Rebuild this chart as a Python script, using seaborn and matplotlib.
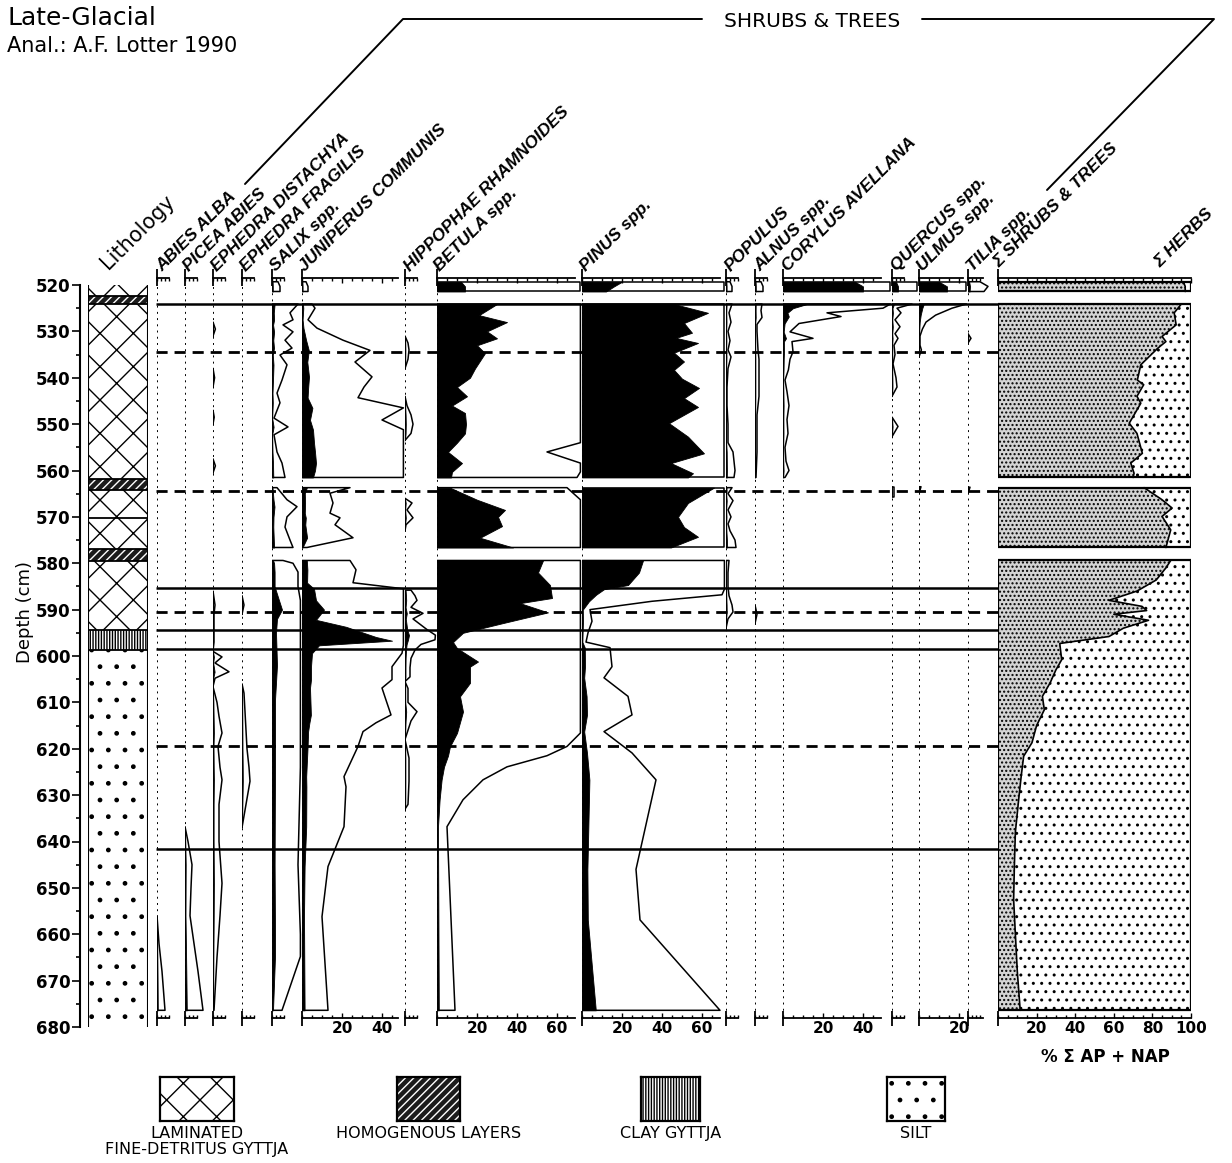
import numpy as np
import matplotlib
matplotlib.use("Agg")
import matplotlib.pyplot as plt
import seaborn as sns
from matplotlib.lines import Line2D
from matplotlib.patches import Rectangle
from matplotlib.ticker import FixedLocator

sns.set_theme(style="white")
plt.rcParams["font.family"] = ["DejaVu Sans"]
plt.rcParams["hatch.linewidth"] = 1.0
plt.rcParams["text.color"] = "black"
plt.rcParams["xtick.labelcolor"] = "black"
plt.rcParams["ytick.labelcolor"] = "black"

N = np.nan

# ---------------- data: depth (cm) / percent of sum AP + NAP ----------------
# NaN separates the core sections (gaps between drives)
betula_depth = [519.3, 520.3, 521.4, N,
                524.1, 526.5, 528, 530, 531.5, 533, 534.7, 538, 540, 542, 544, 546, 547.6, 550, 552, 554,
                556, 558.4, 560.3, 561.5, N,
                563.7, 566.3, 568.5, 570, 572, 574.5, 576.6, N,
                579.4, 582, 584.7, 587.5, 588.6, 590.6, 592.9, 595, 597, 598.3, 601.2, 602.3, 605.8, 608.7,
                612, 616.6, 619.5, 621.5, 623.9, 626.7, 631, 636.8, 676.4]
betula = [12, 14, 14, N,
          30, 21, 35, 25, 30, 20, 24, 19, 16.5, 10, 15, 7.5, 14, 14.5, 14, 10, 5.5, 12.5, 7.5, 7, N,
          6.5, 20, 34, 30.5, 32.5, 21.5, 38, N,
          53, 50.5, 56.5, 57.5, 41.5, 55.5, 33, 13, 8, 10, 20.5, 16.5, 16.5, 11.5, 13, 10, 6.5, 5.5, 3.5,
          2.3, 1.3, 0.5, 0.9]

pinus_depth = [519.3, 520.3, 521.4, N,
               524.1, 526, 528.2, 530.3, 531.4, 532.5, 534.6, 536.5, 538.3, 540.2, 542.2, 544.4, 546.3, 549.8,
               552.7, 556.3, 558.4, 560.6, 561.5, N,
               563.7, 567, 570, 572.2, 574.3, 576.6, N,
               579.4, 582, 584.7, 585.6, 586.8, 588.2, 590, 592.5, 595, 597, 598.2, 602.3, 604.7, 608.7,
               612.7, 616.3, 620.9, 626.7, 646, 656.9, 676.4]
pinus = [20, 16, 12, N,
         46, 63, 51, 55, 47, 58, 46, 51, 46, 50, 58.5, 51, 58, 43.5, 53, 61, 44.5, 55.5, 53, N,
         66, 53, 48, 51, 58, 44.5, N,
         30.5, 28.5, 23, 11, 7, 3.5, 0.4, 0.5, 0.3, 0.2, 1.4, 1.5, 1.1, 2.3, 2.5, 1.1, 2.5, 3.7, 2.7, 2.9, 6.9]

juniperus_depth = [519.3, 520.3, 521.4, N,
                   524.1, 525, 527.5, 529.3, 531.9, 534.1, 536.6, 539.8, 542, 544.3, 546.5, 549.1, 551.2, 554,
                   556, 558.4, 560, 561.5, N,
                   563.7, 564.9, 567, 569.2, 570.2, 571.7, 574.5, 576.6, N,
                   579.4, 581.4, 584.2, 585.5, 588, 590, 592.2, 593.7, 595.9, 596.7, 597.7, 599.4, 602.3, 605.1,
                   606.9, 609.5, 612.7, 614.4, 616.3, 619.5, 626, 628.2, 636.8, 645.4, 656.2, 676.4]
juniperus = [0.2, 0.3, 0.3, N,
             0.5, 0.65, 0.3, 0.75, 2.05, 3.4, 2.65, 3.5, 3.1, 2.8, 5.2, 4.0, 5.5, 6, 6.5, 7, 6.5, 5.5, N,
             2.4, 1.4, 1.55, 1.4, 1.9, 1.65, 2.55, 0.25, N,
             2.4, 2.7, 2.55, 6, 7, 11, 7, 22, 37, 45, 8.5, 5, 4.5, 4.5, 4.0, 4.2, 4.45, 3.7, 3.05, 2.8, 2.1,
             2.2, 2.1, 1.3, 1.0, 1.3]

salix_depth = [519.3, 520.3, 521.4, N,
               524.1, 526, 527.5, 528.6, 530.1, 531.9, 533.6, 535.1, 537.2, 540.5, 543.3, 545.4, 548.7, 550.6,
               552.3, 556, 558.4, 561.5, N,
               563.7, 566.3, 567.8, 570, 572.2, 575, 576.6, N,
               579.4, 580, 581.9, 585, 588, 590, 592, 595, 602, 609.5, 624, 645, 660, 664.8, 676.4]
salix = [0.3, 0.4, 0.4, N,
         1.3, 0.9, 1.05, 0.55, 1.05, 0.65, 1.0, 0.4, 0.75, 0.5, 0.25, 0.4, 0.1, 0.8, 0.1, 0.25, 0.5, 0.65, N,
         0.25, 0.75, 1.25, 0.75, 0.65, 0.9, 1.05, N,
         0.55, 1.05, 1.3, 1.3, 3.5, 5, 2.5, 2, 2.5, 1.5, 1.5, 1.3, 1.5, 1.5, 0.5]

abies_depth = [656, 662, 668, 676.4]
abies = [0, 0.1, 0.25, 0.4]

picea_depth = [636.8, 640, 645, 650, 656, 662, 668, 676.4]
picea = [0, 0.15, 0.35, 0.3, 0.25, 0.45, 0.65, 0.9]

eph_dist_depth = [528, 529.5, 531, N, 538, 540, 542, N, 547, 548.5, 550, N, 557.5, 559, 560.5, N,
                  586, 589, 591, 594, 597, 599, 600.2, 601.5, 603.4, 604.8, 606.6, 610, 613, 616.6, 619.5,
                  624, 626.7, 632, 640, 649, 656, 665, 676.4]
eph_dist = [0, 0.12, 0, N, 0, 0.08, 0, N, 0, 0.06, 0, N, 0, 0.12, 0, N,
            0, 0.1, 0.05, 0.05, 0.05, 0, 0.45, 0.1, 0.8, 0.1, 0, 0.2, 0.3, 0.45, 0.25,
            0.35, 0.45, 0.3, 0.3, 0.45, 0.35, 0.2, 0.05]

eph_frag_depth = [587, 589, 591, N, 606, 608, 612, 616, 620, 624, 627, 632, 637]
eph_frag = [0, 0.1, 0, N, 0, 0.1, 0.15, 0.2, 0.25, 0.35, 0.4, 0.2, 0]

hippophae_depth = [531, 532.5, 534, 536, 538, N, 544, 546, 548, 550, 552, 553.5, N,
                   566, 567, 568.5, 570.2, 571.7, 573, N,
                   585.8, 587, 588, 589.5, 590.8, 592, 594.3, 595.5, 596.5, 597.5, 598.7, 600.5, 602.5,
                   604.5, 605.5, 607, 610, 612, 614, 616, 618, 622, 627, 632, 633]
hippophae = [0, 0.15, 0.2, 0.15, 0, N, 0, 0.1, 0.3, 0.4, 0.3, 0, N,
             0, 0.35, 0.1, 0.4, 0.05, 0, N,
             0.3, 0.5, 0.6, 0.3, 0.9, 0.4, 1.1, 2.0, 1.5, 0.8, 0.5, 0.3, 0.25, 0.25, 0, 0.15, 0.15, 0.6,
             0.3, 0.15, 0, 0.2, 0.2, 0.15, 0]

populus_depth = [519.3, 520.3, 521.4, N,
                 524.1, 526, 528, 530, 532, 534, 535.5, 538, 542, 546, 550, 554, 556, 558, 560, 561.5, N,
                 563.7, 565, 566.5, 568.5, 570, 571.5, 573, 575, 576.6, N,
                 579.4, 582, 585, 587, 589, 590.5, 592, 594]
populus = [0.2, 0.3, 0.3, N,
           0.3, 0.15, 0.25, 0.1, 0.2, 0.1, 0.25, 0.1, 0.05, 0.05, 0.1, 0.1, 0.35, 0.4, 0.45, 0.4, N,
           0.3, 0.1, 0.35, 0.1, 0.25, 0.1, 0.2, 0.45, 0.5, N,
           0.15, 0.1, 0.1, 0.15, 0.3, 0.35, 0.1, 0]

alnus_depth = [519.3, 520.3, 521.4, N,
               524.1, 525.5, 527, 528.5, 530, 534, 536, 540, 544, 548, 552, 556, 561.5, N,
               589, 591, 593]
alnus = [0.3, 0.4, 0.4, N,
         0.35, 0.3, 0.35, 0.1, 0.1, 0.15, 0.2, 0.2, 0.2, 0.1, 0.1, 0.1, 0.05, N,
         0, 0.1, 0]

corylus_depth = [519.3, 520.3, 521.4, N,
                 524.1, 525, 526, 526.8, 528.3, 530.1, 531.5, 532.2, 534.4, 536, 538.3, 540.5, 543, 546, 549,
                 552, 555, 558, 560, 561.5]
corylus = [36, 40, 40, N,
           12, 5, 2.2, 2.9, 0.8, 0.35, 1.5, 0.45, 0.5, 0.35, 0.27, 0.1, 0.2, 0.3, 0.2, 0.25, 0.1, 0.15, 0.3, 0.1]

quercus_depth = [519.3, 520.3, 521.4, N,
                 524.1, 525, 526, 527.5, 529, 530.5, 531.5, 533, 535, 537, 540, 542, 544, N,
                 548.5, 550.5, 552.7, N, 563.5, 565.7]
quercus = [2, 3, 3, N,
           1.0, 0.25, 0.45, 0.15, 0.4, 0.15, 0.3, 0.1, 0.15, 0.05, 0.2, 0.25, 0, N,
           0, 0.3, 0, N, 0.1, 0.1]

ulmus_depth = [519.3, 520.3, 521.4, N, 524.1, 525, 526.5, 528, 529.5, 531, 533, 534, 535.5, N, 563.5, 565]
ulmus = [10, 14, 14, N, 2.4, 1.65, 0.83, 0.35, 0.17, 0.05, 0.05, 0.12, 0, N, 0.1, 0]

tilia_depth = [519.3, 520.3, 521.4, N, 530.5, 531.5, 532.5, N, 563.6, 565]
tilia = [0.6, 1.0, 0.8, N, 0, 0.15, 0, N, 0.1, 0]

sum_depth = [519.3, 520.3, 521.4, N,
             524.1, 526, 528.6, 531.1, 532.2, 533.7, 537.2, 540.5, 541.5, 544, 545.5, 549.8, 552, 556.3,
             558.4, 560.6, 561.5, N,
             563.7, 566.3, 568.1, 569.9, 572.8, 576.6, N,
             579.4, 581, 583.6, 586, 588, 589.3, 590.2, 591, 592.3, 594, 595.8, 597.3, 600.8, 603, 605.8,
             608.7, 611.6, 615, 618.7, 621.6, 626, 631, 638, 645, 652.5, 660, 668, 676.4]
sum_trees = [96, 97, 97, N,
             95, 91.3, 92.3, 85, 87, 82.6, 74, 72.2, 75.5, 72, 74, 68, 72, 74.8, 68.8, 70.5, 70, N,
             75.7, 85, 90.2, 85, 89.5, 87, N,
             89.5, 87, 82, 72, 57.5, 74.6, 77, 60, 78, 65, 57.5, 32, 33, 30, 27, 23, 24, 20, 17.6, 13.3,
             12, 10.7, 9, 8.5, 8.1, 9, 10, 11.5]

litho_top = [520, 522.3, 524, 561.8, 564.2, 570.3, 577, 579.5, 594.4, 598.7]
litho_bottom = [522.3, 524, 561.8, 564.2, 570.3, 577, 579.5, 594.4, 598.7, 680]
litho_kind = ["lam", "hom", "lam", "hom", "lam", "lam", "hom", "lam", "clay", "silt"]

zone_solid = [524.0, 585.3, 594.4, 598.4, 641.6]
zone_dashed = [534.5, 564.4, 590.6, 619.3]

depth_ticks = list(range(520, 681, 10))

legend_kinds = ["lam", "hom", "clay", "silt"]
legend_labels = ["LAMINATED\nFINE-DETRITUS GYTTJA", "HOMOGENOUS LAYERS", "CLAY GYTTJA", "SILT"]

# ---------------- layout ----------------
W, H = 1232, 1163
PX_CM = 4.6375
D_TOP, D_BOT = 518.0, 681.0


def ypx(d):
    return 285 + (d - 520) * PX_CM


AX_B = 1 - ypx(D_BOT) / H
AX_H = (ypx(D_BOT) - ypx(D_TOP)) / H
PX_PCT = 2.0

LITHO_STYLE = {
    "lam": ("white", "black", "x"),
    "hom": ("#1c1c1c", "white", "////"),
    "clay": ("white", "black", "||||||"),
    "silt": ("white", "black", "."),
}

# name, depth, values, left px, right px, axis length (%), labelled ticks, label x
panels = [
    ("ABIES ALBA", abies_depth, abies, 157, 185, 6, [], 162),
    ("PICEA ABIES", picea_depth, picea, 185, 213, 6, [], 189),
    ("EPHEDRA DISTACHYA", eph_dist_depth, eph_dist, 213, 242, 6, [], 217),
    ("EPHEDRA FRAGILIS", eph_frag_depth, eph_frag, 242, 272, 6, [], 246),
    ("SALIX spp.", salix_depth, salix, 272, 302, 6, [], 276),
    ("JUNIPERUS COMMUNIS", juniperus_depth, juniperus, 302, 405, 48, [20, 40], 305),
    ("HIPPOPHAE RHAMNOIDES", hippophae_depth, hippophae, 405, 437, 6, [], 410),
    ("BETULA spp.", betula_depth, betula, 437, 582, 69, [20, 40, 60], 440),
    ("PINUS spp.", pinus_depth, pinus, 582, 726, 69, [20, 40, 60], 586),
    ("POPULUS", populus_depth, populus, 726, 755, 6, [], 731),
    ("ALNUS spp.", alnus_depth, alnus, 755, 783, 6, [], 760),
    ("CORYLUS AVELLANA", corylus_depth, corylus, 783, 892, 49, [20, 40], 788),
    ("QUERCUS spp.", quercus_depth, quercus, 892, 919, 6, [], 897),
    ("ULMUS spp.", ulmus_depth, ulmus, 919, 968, 22, [20], 923),
    ("TILIA spp.", tilia_depth, tilia, 968, 996, 7.5, [], 973),
]

fig = plt.figure(figsize=(W / 100, H / 100), dpi=100)
fig.patch.set_facecolor("white")


def new_axes(x0, x1):
    ax = fig.add_axes([x0 / W, AX_B, (x1 - x0) / W, AX_H])
    ax.set_ylim(D_BOT, D_TOP)
    ax.patch.set_visible(False)
    for s in ax.spines.values():
        s.set_visible(False)
    ax.yaxis.set_visible(False)
    ax.xaxis.set_visible(False)
    ax.grid(False)
    return ax


def split_segments(depths, values):
    d = np.asarray(depths, float)
    v = np.asarray(values, float)
    cuts = np.where(np.isnan(d))[0]
    out = []
    for cd, cv in zip(np.split(d, cuts), np.split(v, cuts)):
        m = ~np.isnan(cd)
        if m.sum() > 1:
            out.append((cd[m], cv[m]))
    return out


def style_axis(ax, alen, ticks, minor_step):
    ax.xaxis.set_visible(True)
    for side, pos in (("top", 518.4), ("bottom", 678.0)):
        sp = ax.spines[side]
        sp.set_visible(True)
        sp.set_color("black")
        sp.set_linewidth(1.3)
        sp.set_position(("data", pos))
        sp.set_bounds(0, alen)
    ax.xaxis.set_ticks_position("both")
    ax.set_xticks(ticks, labels=[str(t) for t in ticks])
    ax.xaxis.set_minor_locator(FixedLocator(np.arange(0, alen + 0.01, minor_step)))
    ax.tick_params(axis="x", which="both", direction="in", top=True, bottom=True,
                   labeltop=False, labelbottom=True, color="black", labelcolor="black", width=1.0)
    ax.tick_params(axis="x", which="major", length=3.5, pad=2, labelsize=11)
    ax.tick_params(axis="x", which="minor", length=2.5)
    for t in ax.get_xticklabels():
        t.set_fontweight("bold")
    ax.vlines(0, 516.6, 520.2, colors="black", lw=1.3, clip_on=False)
    ax.vlines(0, 676.6, 679.8, colors="black", lw=1.3, clip_on=False)


def label(x, text, y=272, **kw):
    fig.text(x / W, 1 - y / H, text, rotation=45, rotation_mode="anchor",
             ha="left", va="baseline", color="black", **kw)


TAXON_FONT = dict(family="Liberation Sans", style="italic", weight="bold", fontsize=12.5)

# ---- taxa panels
for name, depth, vals, x0, x1, alen, ticks, lx in panels:
    ax = new_axes(x0, x1)
    xmax = (x1 - x0) / PX_PCT
    ax.set_xlim(0, xmax)
    ax.vlines(0, 520.5, 677, colors="black", linestyles=(0, (1, 2.2)), lw=1.4)
    for d, v in split_segments(depth, vals):
        ex = np.minimum(v * 10, xmax - 0.8)
        ax.fill_betweenx(d, 0, ex, facecolor="none", edgecolor="black", lw=1.1, zorder=3)
        ax.fill_betweenx(d, 0, v, facecolor="black", edgecolor="black", lw=0.6, zorder=4)
    style_axis(ax, alen, ticks, 5 if alen > 10 else 2)
    label(lx, name, **TAXON_FONT)

# ---- sum panel (shrubs & trees vs herbs)
ax = new_axes(998, 1191)
ax.set_xlim(0, 100)
for d, v in split_segments(sum_depth, sum_trees):
    ax.fill_betweenx(d, 0, v, facecolor="#d4d4d4", edgecolor="black", hatch="....", lw=0)
    ax.fill_betweenx(d, v, 100, facecolor="white", edgecolor="black", hatch="..", lw=0)
    ax.plot(v, d, color="black", lw=1.2)
    ax.fill_betweenx([d[0], d[-1]], 0, 100, facecolor="none", edgecolor="black", lw=1.6)
style_axis(ax, 100, [20, 40, 60, 80, 100], 5)
label(999, "\u03a3 SHRUBS & TREES", y=268, **TAXON_FONT)
label(1160, "\u03a3 HERBS", y=268, **TAXON_FONT)
fig.text(1105 / W, 1 - 1062 / H, "% \u03a3 AP + NAP", ha="center", fontsize=12, weight="bold",
         color="black")

# ---- zone lines across the taxa
zax = new_axes(156, 998)
zax.set_xlim(0, 1)
zax.hlines(zone_solid, 0, 1, colors="black", lw=1.8, zorder=6)
zax.hlines(zone_dashed, 0, 1, colors="black", lw=2.0, linestyles=(0, (4, 2.5)), zorder=6)

# ---- lithology column
lax = new_axes(88, 148)
lax.set_xlim(0, 1)
for top, bot, kind in zip(litho_top, litho_bottom, litho_kind):
    face, hcol, hatch = LITHO_STYLE[kind]
    lax.barh((top + bot) / 2, 1, height=bot - top, left=0, color=face, edgecolor=hcol,
             hatch=hatch, lw=0)
lax.hlines(litho_top[1:], 0, 1, colors="black", lw=1.3)
lax.vlines([0, 1], 520, 680, colors="black", lw=1.5)
label(108, "Lithology", y=270, fontsize=15)

# ---- depth axis
dax = new_axes(80, 81)
dax.yaxis.set_visible(True)
dax.spines["left"].set_visible(True)
dax.spines["left"].set_color("black")
dax.spines["left"].set_linewidth(1.5)
dax.spines["left"].set_bounds(520, 680)
dax.set_yticks(depth_ticks, labels=[str(t) for t in depth_ticks])
dax.yaxis.set_minor_locator(FixedLocator(np.arange(520, 681, 5)))
dax.tick_params(axis="y", which="both", direction="out", left=True, right=False,
                labelleft=True, color="black", labelcolor="black", width=1.2)
dax.tick_params(axis="y", which="major", length=6, pad=1, labelsize=12)
dax.tick_params(axis="y", which="minor", length=3)
for t in dax.get_yticklabels():
    t.set_fontweight("bold")
fig.text(25 / W, 1 - 612 / H, "Depth (cm)", rotation=90, ha="center", va="center", fontsize=13,
         color="black")

# ---- header
fig.text(7 / W, 1 - 25 / H, "Late-Glacial", fontsize=18, va="baseline", color="black")
fig.text(7 / W, 1 - 52 / H, "Anal.: A.F. Lotter 1990", fontsize=15, va="baseline", color="black")
fig.text(812 / W, 1 - 27 / H, "SHRUBS & TREES", fontsize=14.5, ha="center", va="baseline",
         color="black")
for xs, ys in (([245, 403, 702], [184, 19, 19]), ([922, 1214, 1047], [19, 19, 190])):
    fig.add_artist(Line2D([x / W for x in xs], [1 - y / H for y in ys], color="black", lw=1.4,
                          transform=fig.transFigure))

# ---- lithology legend
legend_x = [(160, 234), (397, 460), (641, 700), (887, 945)]
for kind, text, (x0, x1) in zip(legend_kinds, legend_labels, legend_x):
    face, hcol, hatch = LITHO_STYLE[kind]
    sax = fig.add_axes([x0 / W, 1 - 1121 / H, (x1 - x0) / W, 44 / H])
    sax.set_xlim(0, 1)
    sax.set_ylim(0, 1)
    sax.add_patch(Rectangle((0, 0), 1, 1, facecolor=face, edgecolor=hcol, hatch=hatch, lw=0))
    sax.set_xticks([])
    sax.set_yticks([])
    for s in sax.spines.values():
        s.set_visible(True)
        s.set_color("black")
        s.set_linewidth(1.6)
    fig.text((x0 + x1) / 2 / W, 1 - 1126 / H, text, ha="center", va="top", fontsize=11.5,
             linespacing=1.05, color="black")

fig.savefig("out.png", dpi=100, facecolor="white")
